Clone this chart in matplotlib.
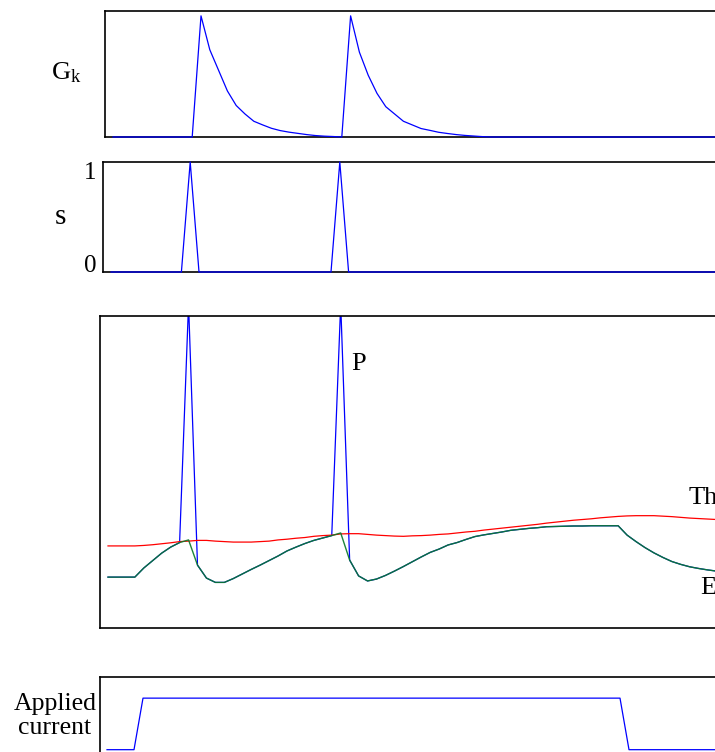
import numpy as np
import matplotlib
matplotlib.use("Agg")
import matplotlib.pyplot as plt

plt.rcParams['font.family'] = ['Liberation Serif', 'DejaVu Serif']
plt.rcParams['mathtext.fontset'] = 'custom'
plt.rcParams['mathtext.rm'] = 'Liberation Serif'
plt.rcParams['mathtext.it'] = 'Liberation Serif:italic'

# ---- simulated neuron trace, one sample per time step ----
time_step = np.arange(70)

# potassium conductance (normalised)
gk = [0, 0, 0, 0, 0, 0, 0, 0, 0, 0,
      1.0, 0.72, 0.55, 0.38, 0.26, 0.19, 0.13, 0.10, 0.072, 0.053,
      0.04, 0.03, 0.02, 0.012, 0.007, 0.004, 0.0, 1.0, 0.70, 0.51,
      0.36, 0.25, 0.19, 0.13, 0.10, 0.07, 0.055, 0.039, 0.029, 0.02,
      0.013, 0.008, 0.003, 0, 0, 0, 0, 0, 0, 0,
      0, 0, 0, 0, 0, 0, 0, 0, 0, 0,
      0, 0, 0, 0, 0, 0, 0, 0, 0, 0]

# spike indicator
spike_steps = [9, 26]
s = [0] * 70
for k in spike_steps:
    s[k] = 1

# membrane potential E (mV)
E = [-68.8, -68.8, -68.8, -68.8, -65.0, -61.9, -58.8, -56.3, -54.4, -53.3,
     -63.8, -69.2, -71.0, -71.0, -69.4, -67.5, -65.6, -63.8, -61.9, -60.0,
     -57.9, -56.3, -54.8, -53.5, -52.5, -51.5, -50.4, -61.7, -68.3, -70.4,
     -69.6, -68.1, -66.3, -64.4, -62.4, -60.4, -58.5, -57.1, -55.4, -54.4,
     -53.1, -51.9, -51.2, -50.6, -50.0, -49.3, -48.9, -48.5, -48.2, -47.8,
     -47.7, -47.6, -47.5, -47.5, -47.4, -47.4, -47.4, -47.4, -51.3, -54.0,
     -56.5, -58.7, -60.6, -62.3, -63.5, -64.5, -65.2, -65.8, -66.3, -66.7]

# threshold Th (mV)
Th = [-55.8, -55.8, -55.8, -55.8, -55.6, -55.3, -54.9, -54.5, -54.0, -53.8,
      -53.5, -53.5, -53.8, -54.0, -54.2, -54.2, -54.2, -54.0, -53.8, -53.3,
      -53.0, -52.6, -52.3, -51.8, -51.5, -51.3, -50.8, -50.7, -50.7, -51.0,
      -51.3, -51.5, -51.7, -51.8, -51.6, -51.5, -51.3, -51.0, -50.8, -50.4,
      -50.0, -49.7, -49.2, -48.8, -48.4, -48.0, -47.6, -47.2, -46.8, -46.3,
      -45.9, -45.5, -45.1, -44.8, -44.5, -44.1, -43.8, -43.5, -43.3, -43.2,
      -43.2, -43.2, -43.4, -43.6, -43.9, -44.2, -44.4, -44.6, -44.8, -45.0]

# output potential P: E with the spikes added
spike_peak = 45.0
P = np.array(E, dtype=float)
P[spike_steps] = spike_peak

# applied current step
applied = [0] * 4 + [1] * 54 + [0] * 12

# ---- figure ----
W, H = 715, 752
fig = plt.figure(figsize=(W / 100, H / 100), dpi=100)


def add_panel(left, top, right, bottom):
    return fig.add_axes([left / W, 1 - bottom / H, (right - left) / W, (bottom - top) / H])


def xrange_for(left, right, first_px, step_px):
    return ((left - first_px) / step_px, (right - first_px) / step_px)


def style(ax, show_bottom=True):
    ax.set_xticks([])
    ax.set_yticks([])
    ax.spines['right'].set_visible(False)
    ax.spines['bottom'].set_visible(show_bottom)
    for sp in ax.spines.values():
        sp.set_linewidth(1.2)
        sp.set_color('black')
    ax.patch.set_alpha(0)


BLUE = '#0000ff'
lw = 0.9

# G_k
ax1 = add_panel(105, 11, 735, 137)
ax1.plot(time_step, gk, color=BLUE, lw=lw, clip_on=False, zorder=3)
ax1.set_xlim(*xrange_for(105, 735, 113, 8.8))
ax1.set_ylim(0, 1.04)
style(ax1)

# s
ax2 = add_panel(103, 162, 735, 272)
ax2.plot(time_step, s, color=BLUE, lw=lw, clip_on=False, zorder=3)
ax2.set_xlim(*xrange_for(103, 735, 111, 8.8))
ax2.set_ylim(0, 1)
style(ax2)
ax2.set_yticks([0, 1])
ax2.set_yticklabels(['0', '1'], fontsize=18)
ax2.tick_params(axis='y', length=0, pad=5)
labs = ax2.get_yticklabels()
labs[0].set_va('baseline')
labs[1].set_va('top')

# P, E and Th
ax3 = add_panel(100, 316, 735, 628)
ax3.plot(time_step, P, color=BLUE, lw=lw, zorder=2)
ax3.plot(time_step, Th, color='#ff0000', lw=lw, zorder=2)
ax3.plot(time_step, E, color='#0a7a2a', lw=1.0, alpha=0.92, zorder=3)
ax3.set_xlim(*xrange_for(100, 735, 108, 8.95))
ax3.set_ylim(-90, 40)
style(ax3)

# applied current
ax4 = add_panel(100, 677, 735, 760)
ax4.plot(time_step, applied, color=BLUE, lw=lw, zorder=3)
ax4.set_xlim(*xrange_for(100, 735, 107, 9.0))
ax4.set_ylim(-0.2, 1.41)
style(ax4, show_bottom=False)


def label(x, y, text, size, **kw):
    fig.text(x / W, 1 - y / H, text, fontsize=size, **kw)


label(50.7, 79, r'G$_{\mathrm{k}}$', 19, ha='left', va='baseline')
label(60, 223.5, 's', 21, ha='center', va='baseline')
label(351.5, 370, 'P', 19, ha='left', va='baseline')
label(689, 503.5, 'Th', 19, ha='left', va='baseline')
label(700.5, 594, 'E', 19, ha='left', va='baseline')
fig.text(55 / W, 1 - 734 / H, 'Applied\ncurrent', fontsize=18.5, ha='center',
         va='baseline', multialignment='center', linespacing=1.1)

fig.savefig('out.png', dpi=100)
